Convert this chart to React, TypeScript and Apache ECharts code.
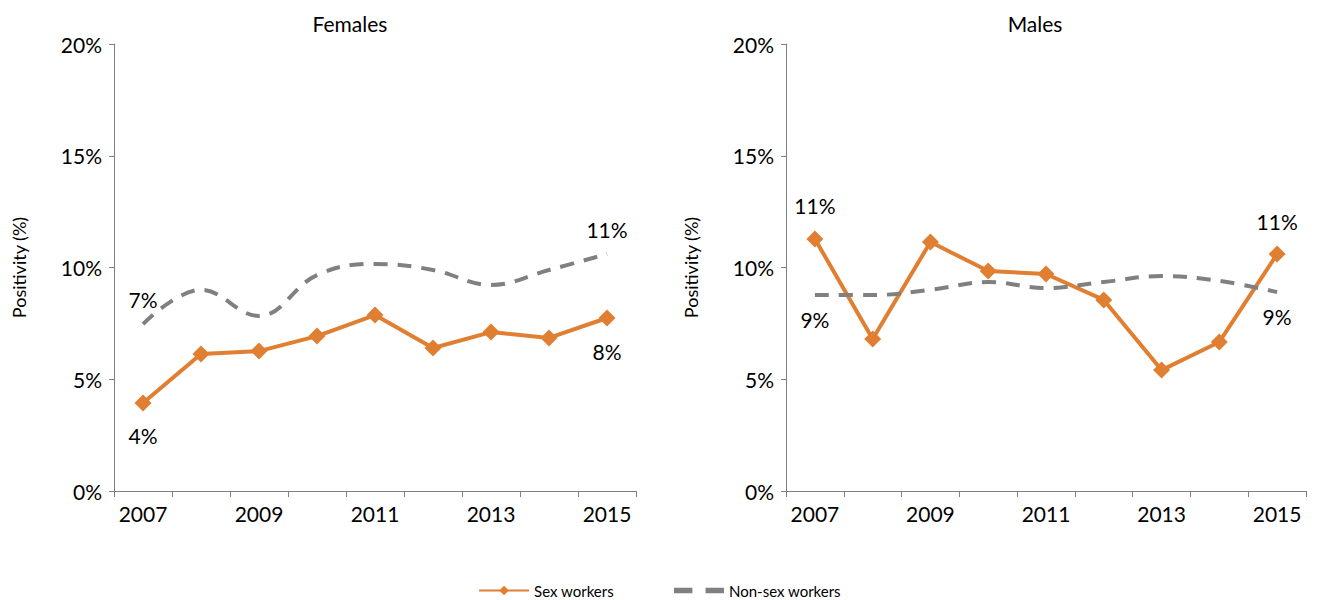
import React, { useEffect, useRef } from 'react';
import * as echarts from 'echarts';

const years = ['2007', '2008', '2009', '2010', '2011', '2012', '2013', '2014', '2015'];
const femaleSex = [3.94, 6.13, 6.26, 6.93, 7.87, 6.4, 7.11, 6.85, 7.74];
const femaleNonSex = [7.47, 9.0, 7.83, 9.66, 10.16, 9.89, 9.22, 9.89, 10.6];
const maleSex = [11.28, 6.8, 11.14, 9.84, 9.71, 8.55, 5.41, 6.67, 10.6];
const maleNonSex = [8.77, 8.77, 9.0, 9.35, 9.08, 9.35, 9.62, 9.4, 8.9];

const FONT = 'Lato';
const ORANGE = '#E07F31';
const GRAY = '#808080';

const labelled = (vals: number[], pos: 'top' | 'bottom', idx: number[]) =>
  vals.map((v, i) =>
    idx.includes(i)
      ? { value: v, label: { show: true, position: pos, distance: 14, formatter: Math.round(v) + '%', fontSize: 21, color: '#000', fontFamily: FONT } }
      : v
  );

const App: React.FC = () => {
  const chartRef = useRef<HTMLDivElement>(null);

  useEffect(() => {
    if (!chartRef.current) return;
    const chart = echarts.init(chartRef.current, undefined, { renderer: 'svg' });

    const xAxis = (gi: number) => ({
      type: 'category' as const,
      gridIndex: gi,
      data: years,
      boundaryGap: true,
      axisLine: { lineStyle: { color: GRAY } },
      axisTick: { show: true, length: 6, interval: 0, lineStyle: { color: GRAY } },
      axisLabel: { interval: 1, fontSize: 21, color: '#000', fontFamily: FONT, margin: 12 },
    });
    const yAxis = (gi: number) => ({
      type: 'value' as const,
      gridIndex: gi,
      min: 0,
      max: 20,
      interval: 5,
      name: 'Positivity (%)',
      nameLocation: 'middle' as const,
      nameGap: 86,
      nameTextStyle: { fontSize: 18, color: '#000', fontFamily: FONT },
      axisLine: { show: true, lineStyle: { color: GRAY } },
      axisTick: { show: true, length: 5, lineStyle: { color: GRAY } },
      splitLine: { show: false },
      axisLabel: { formatter: '{value}%', fontSize: 21, color: '#000', fontFamily: FONT, margin: 12 },
    });

    const sexSeries = (data: any[], gi: number) => ({
      name: 'Sex workers',
      type: 'line' as const,
      xAxisIndex: gi,
      yAxisIndex: gi,
      data,
      symbol: 'diamond',
      symbolSize: 17,
      itemStyle: { color: ORANGE },
      lineStyle: { color: ORANGE, width: 4 },
    });
    const nonSeries = (data: any[], gi: number) => ({
      name: 'Non-sex workers',
      type: 'line' as const,
      xAxisIndex: gi,
      yAxisIndex: gi,
      data,
      smooth: 0.4,
      symbol: 'circle',
      symbolSize: 0.1,
      itemStyle: { color: GRAY },
      lineStyle: { color: GRAY, width: 4, type: [14, 10] },
    });

    chart.setOption({
      animation: false,
      title: [
        { text: 'Females', left: 337, top: 0, textAlign: 'center', textStyle: { fontSize: 21, fontWeight: 'normal', fontFamily: FONT, color: '#000' } },
        { text: 'Males', left: 1022, top: 0, textAlign: 'center', textStyle: { fontSize: 21, fontWeight: 'normal', fontFamily: FONT, color: '#000' } },
      ],
      legend: {
        top: 570,
        left: 'center',
        itemGap: 60,
        itemWidth: 50,
        itemHeight: 12,
        textStyle: { fontSize: 15, fontFamily: FONT, color: '#000' },
        data: [
          { name: 'Sex workers' },
          { name: 'Non-sex workers', icon: 'path://M0,0L14,0L14,4L0,4ZM24,0L38,0L38,4L24,4Z', itemStyle: { color: GRAY } },
        ],
      },
      grid: [
        { left: 106, right: 675, top: 36, height: 447 },
        { left: 778, right: 5, top: 36, height: 447 },
      ],
      xAxis: [xAxis(0), xAxis(1)],
      yAxis: [yAxis(0), yAxis(1)],
      series: [
        sexSeries(labelled(femaleSex, 'bottom', [0, 8]), 0),
        nonSeries(labelled(femaleNonSex, 'top', [0, 8]), 0),
        sexSeries(labelled(maleSex, 'top', [0, 8]), 1),
        nonSeries(labelled(maleNonSex, 'bottom', [0, 8]), 1),
      ],
    });

    return () => {
      chart.dispose();
    };
  }, []);

  return <div ref={chartRef} style={{ width: 1303, height: 590 }} />;
};

export default App;
